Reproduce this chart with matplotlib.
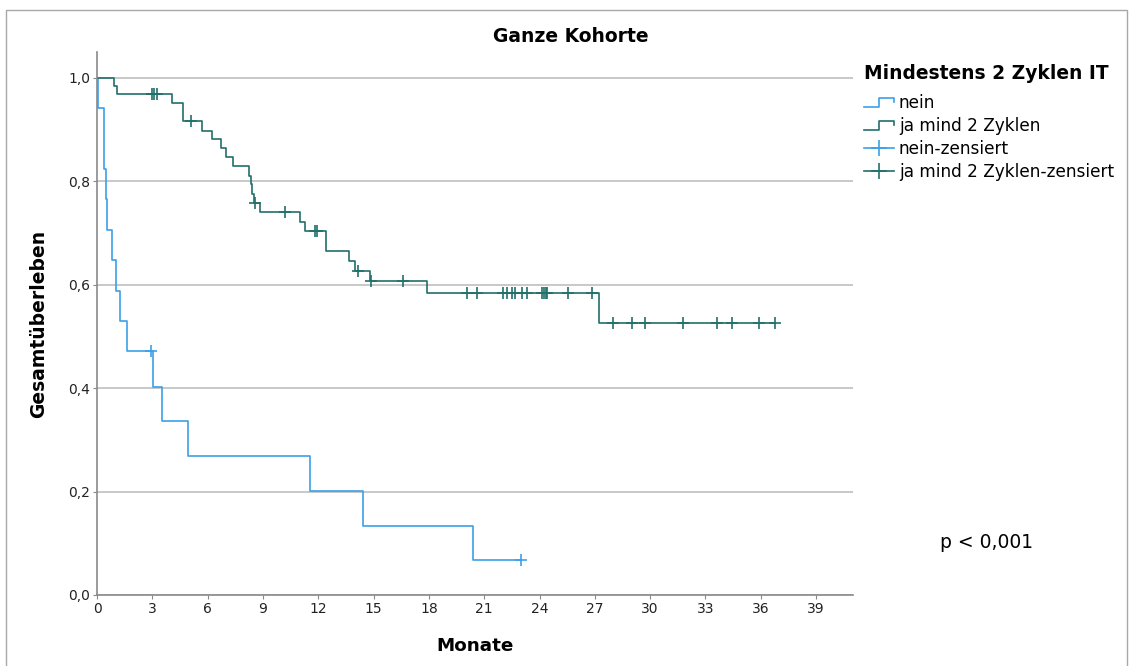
import numpy as np
import matplotlib
matplotlib.use("Agg")
import matplotlib.pyplot as plt
from matplotlib.lines import Line2D
from matplotlib.patches import Rectangle
from matplotlib.legend_handler import HandlerBase

plt.rcParams['font.family'] = ['DejaVu Sans']

# Kaplan-Meier step curve: group "nein"
nein_times = [0, 0.03, 0.38, 0.49, 0.56, 0.83, 1.03, 1.25, 1.65, 3.06, 3.55,
              4.92, 11.53, 14.43, 20.39, 23.0]
nein_surv = [1.0, 0.941, 0.824, 0.765, 0.706, 0.647, 0.588, 0.529, 0.471,
             0.403, 0.336, 0.269, 0.202, 0.134, 0.067, 0.067]
nein_censored = [2.93, 23.0]

# Kaplan-Meier step curve: group "ja mind 2 Zyklen"
ja_times = [0, 0.92, 1.09, 4.09, 4.69, 5.69, 6.26, 6.74, 6.99, 7.40, 8.27,
            8.35, 8.42, 8.49, 8.85, 10.99, 11.30, 12.42, 13.69, 14.00, 14.79,
            17.91, 27.23, 36.77]
ja_surv = [1.0, 0.984, 0.968, 0.952, 0.916, 0.898, 0.882, 0.864, 0.846,
           0.829, 0.811, 0.794, 0.776, 0.758, 0.741, 0.722, 0.703, 0.666,
           0.646, 0.626, 0.607, 0.584, 0.526, 0.526]
ja_censored = [2.97, 3.10, 3.28, 5.10, 8.55, 10.2, 11.82, 11.95, 14.14, 14.87,
               16.6, 20.04, 20.62, 22.04, 22.21, 22.48, 22.65, 23.07, 23.34,
               24.16, 24.25, 24.34, 24.43, 25.57, 26.82, 27.96, 28.99, 29.73,
               31.79, 33.62, 34.42, 35.92, 36.77]

group_labels = ["nein", "ja mind 2 Zyklen", "nein-zensiert", "ja mind 2 Zyklen-zensiert"]
x_ticks = list(range(0, 40, 3))
y_ticks = [0.0, 0.2, 0.4, 0.6, 0.8, 1.0]
y_ticklabels = ["0,0", "0,2", "0,4", "0,6", "0,8", "1,0"]

col_nein = "#3d9fe8"
col_ja = "#22706b"


def level_at(times, surv, t):
    """Survival level of a right-continuous step curve at time t."""
    idx = np.searchsorted(np.asarray(times), t, side="right") - 1
    return np.asarray(surv)[idx]


class StepHandler(HandlerBase):
    def create_artists(self, legend, orig_handle, xdescent, ydescent,
                       width, height, fontsize, trans):
        x0, y0 = -xdescent, -ydescent
        xs = [x0, x0 + 0.5 * width, x0 + 0.5 * width, x0 + width, x0 + width]
        ys = [y0 + 0.1 * height, y0 + 0.1 * height, y0 + 0.85 * height,
              y0 + 0.85 * height, y0 + 0.55 * height]
        ln = Line2D(xs, ys, color=orig_handle.get_color(),
                    lw=orig_handle.get_linewidth(), transform=trans)
        return [ln]


W, H = 1130, 666
fig = plt.figure(figsize=(W / 100, H / 100), dpi=100)
fig.patch.set_facecolor("white")

# outer frame
fig.add_artist(Rectangle((6 / W, -0.02), (1127 - 6) / W, 1 - 10 / H + 0.02,
                         transform=fig.transFigure, fill=False,
                         edgecolor="#a8a8a8", lw=1.0))

ax = fig.add_axes([97 / W, 1 - 595 / H, (853 - 97) / W, (595 - 52) / H])

lw = 1.2
l_nein, = ax.step(nein_times, nein_surv, where="post", color=col_nein, lw=lw)
l_ja, = ax.step(ja_times, ja_surv, where="post", color=col_ja, lw=lw)

ms, mew = 9, 1.2
c_nein, = ax.plot(nein_censored, level_at(nein_times, nein_surv, nein_censored),
                  linestyle="none", marker="+", ms=ms, mew=mew, color=col_nein)
c_ja, = ax.plot(ja_censored, level_at(ja_times, ja_surv, ja_censored),
                linestyle="none", marker="+", ms=ms, mew=mew, color=col_ja)

ax.set_xlim(0, 41)
ax.set_ylim(0, 1.05)
ax.set_xticks(x_ticks)
ax.set_xticklabels([str(v) for v in x_ticks])
ax.set_yticks(y_ticks)
ax.set_yticklabels(y_ticklabels)
ax.tick_params(axis="both", labelsize=10, colors="#222222", length=3,
               width=0.8, color="#888888", pad=2)
ax.yaxis.grid(True, color="#c8c8c8", lw=1.4)
ax.set_axisbelow(True)
for s in ("top", "right"):
    ax.spines[s].set_visible(False)
for s in ("left", "bottom"):
    ax.spines[s].set_color("#8a8a8a")
    ax.spines[s].set_linewidth(1.2)

ax.set_xlabel("Monate", fontsize=13.2, fontweight="bold", labelpad=15)
ax.set_ylabel("Gesamtüberleben", fontsize=13.5, fontweight="bold", labelpad=14)

fig.text(571 / W, 1 - 37 / H, "Ganze Kohorte", ha="center", va="center",
         fontsize=13.5, fontweight="bold")
fig.text(987 / W, 1 - 543 / H, "p < 0,001", ha="center", va="center",
         fontsize=13.5)

h_nein_c = Line2D([], [], color=col_nein, lw=lw, marker="+", ms=11, mew=mew)
h_ja_c = Line2D([], [], color=col_ja, lw=lw, marker="+", ms=11, mew=mew)
leg = fig.legend([l_nein, l_ja, h_nein_c, h_ja_c], group_labels,
                 loc="upper left", bbox_to_anchor=(849 / W, 1 - 49 / H),
                 frameon=False, fontsize=12.2, title="Mindestens 2 Zyklen IT",
                 title_fontproperties={"weight": "bold", "size": 13.4},
                 alignment="left", handlelength=1.75, handletextpad=0.3,
                 labelspacing=0.28, numpoints=1,
                 handler_map={l_nein: StepHandler(), l_ja: StepHandler()})
leg._legend_box.sep = 8

fig.savefig("out.png", dpi=100)
